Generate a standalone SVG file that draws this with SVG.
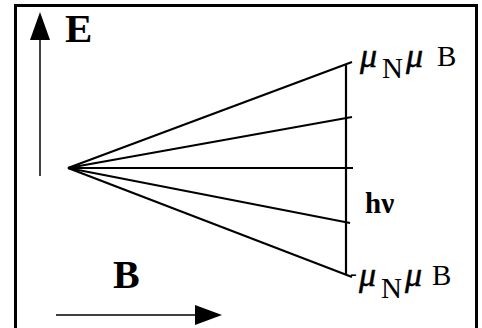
<svg xmlns="http://www.w3.org/2000/svg" width="482" height="328" viewBox="0 0 482 328">
<style>
.frame{fill:none;stroke:#000;stroke-width:3}
.lvl{stroke:#000;stroke-width:2.2;fill:none}
.ax{stroke:#000;stroke-width:1.5;fill:none}
.t{font-family:"Liberation Serif",serif;fill:#000}
.b{font-weight:bold}
.mu{font-style:italic;font-size:34px;stroke:#000;stroke-width:0.5}
.lab{font-size:29px}
</style>
<rect class="frame" x="15.5" y="5.5" width="461" height="340"/>
<g id="connectors">
<g id="fan">
<line class="lvl" x1="68" y1="168" x2="352" y2="62"/>
<line class="lvl" x1="68" y1="168" x2="352" y2="117"/>
<line class="lvl" x1="68" y1="168" x2="353" y2="168"/>
<line class="lvl" x1="68" y1="168" x2="350" y2="223"/>
<line class="lvl" x1="68" y1="168" x2="352" y2="277"/>
<line class="lvl" x1="346" y1="64" x2="346" y2="274"/>
</g>
<line class="ax" x1="40" y1="176" x2="40" y2="38"/>
<polygon points="40,12 30,40 50,40" fill="#000"/>
<line class="ax" x1="56" y1="315" x2="198" y2="315"/>
<polygon points="222,315 195,305 195,325" fill="#000"/>
</g>
<g id="E-label"><text class="t b" x="65" y="42" font-size="41">E</text></g>
<g id="B-label"><text class="t b" x="113" y="288" font-size="40">B</text></g>
<g id="top-label"><text class="t lab"><tspan class="mu" x="360" y="67">μ</tspan><tspan x="382" y="78">N</tspan><tspan class="mu" x="406" y="67">μ</tspan><tspan x="437" y="66">B</tspan></text></g>
<g id="hv-label"><text class="t b" x="365" y="213" font-size="29">hν</text></g>
<g id="bottom-label"><text class="t lab"><tspan x="350" y="280" font-size="20">-</tspan><tspan class="mu" x="359" y="286">μ</tspan><tspan x="381" y="298">N</tspan><tspan class="mu" x="405" y="286">μ</tspan><tspan x="432" y="285">B</tspan></text></g>
</svg>
